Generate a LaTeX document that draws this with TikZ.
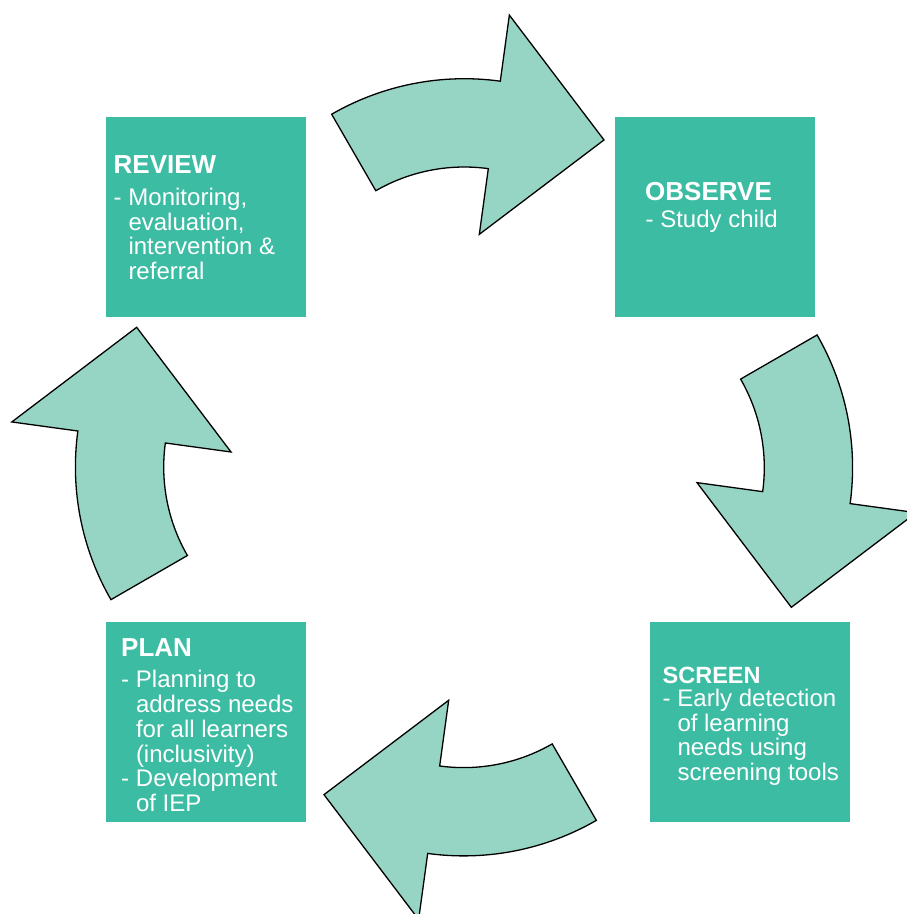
\documentclass[tikz,border=0pt]{standalone}
\usepackage{fontspec}
\setmainfont{Liberation Sans}
\definecolor{boxteal}{RGB}{61,188,164}
\definecolor{arrowteal}{RGB}{150,212,196}
\newlength\dw \setlength\dw{14.8pt}
\newcommand\bl[1]{\makebox[\dw][l]{-}#1}
\newcommand\ct[1]{\hspace*{\dw}#1}
\begin{document}
\begin{tikzpicture}[x=1pt,y=1pt,
  stepbox/.style={fill=boxteal, draw=none, minimum width=200pt, minimum height=200pt, inner sep=0pt, outer sep=0pt, anchor=north west},
  ttl/.style={anchor=base west, inner sep=0pt, text=white, font=\fontsize{#1}{30}\selectfont\bfseries},
  ttl/.default=26,
  bdy/.style={anchor=base west, inner sep=0pt, text=white, font=\fontsize{24}{#1}\selectfont},
  cyc/.style={fill=arrowteal, draw=black, line width=1.3pt, line join=miter}]
\useasboundingbox (0,0) rectangle (906,-914);
% curved block arrows of the cycle
\foreach \r in {0,-90,-180,-270} {
  \begin{scope}[shift={(464,-467.3)}, rotate=\r, shift={(0.3,123.3)}]
    \draw[cyc] (120:265.3) arc[start angle=120, end angle=82.2, radius=265.3]
      -- (82.2:332) -- (55.6:247.3) -- (82.2:110.7) -- (82.2:177)
      arc[start angle=82.2, end angle=120, radius=177] -- cycle;
  \end{scope}
}
% boxes
\node[stepbox] (review) at (106,-117) {};
\node[stepbox] (observe) at (615,-117) {};
\node[stepbox] (screen) at (650,-622) {};
\node[stepbox] (plan) at (106,-622) {};
% texts
\node[ttl] (reviewT) at (113.5,-173.3) {REVIEW};
\node[bdy=23.8] (reviewB) at (113.5,-205.7) {\begin{tabular}[t]{@{}l@{}}\bl{Monitoring,}\\ \ct{evaluation,}\\ \ct{intervention \&}\\ \ct{referral}\end{tabular}};
\node[ttl] (observeT) at (645,-200) {OBSERVE};
\node[bdy=24] (observeB) at (645.3,-227.3) {\bl{Study child}};
\node[ttl=23.5] (screenT) at (662.5,-683.3) {SCREEN};
\node[bdy=24.1] (screenB) at (662.5,-706.7) {\begin{tabular}[t]{@{}l@{}}\bl{Early detection}\\ \ct{of learning}\\ \ct{needs using}\\ \ct{screening tools}\end{tabular}};
\node[ttl] (planT) at (121,-656.3) {PLAN};
\node[bdy=24.7] (planB) at (121,-687.7) {\begin{tabular}[t]{@{}l@{}}\bl{Planning to}\\ \ct{address needs}\\ \ct{for all learners}\\ \ct{(inclusivity)}\\ \bl{Development}\\ \ct{of IEP}\end{tabular}};
\end{tikzpicture}
\end{document}
